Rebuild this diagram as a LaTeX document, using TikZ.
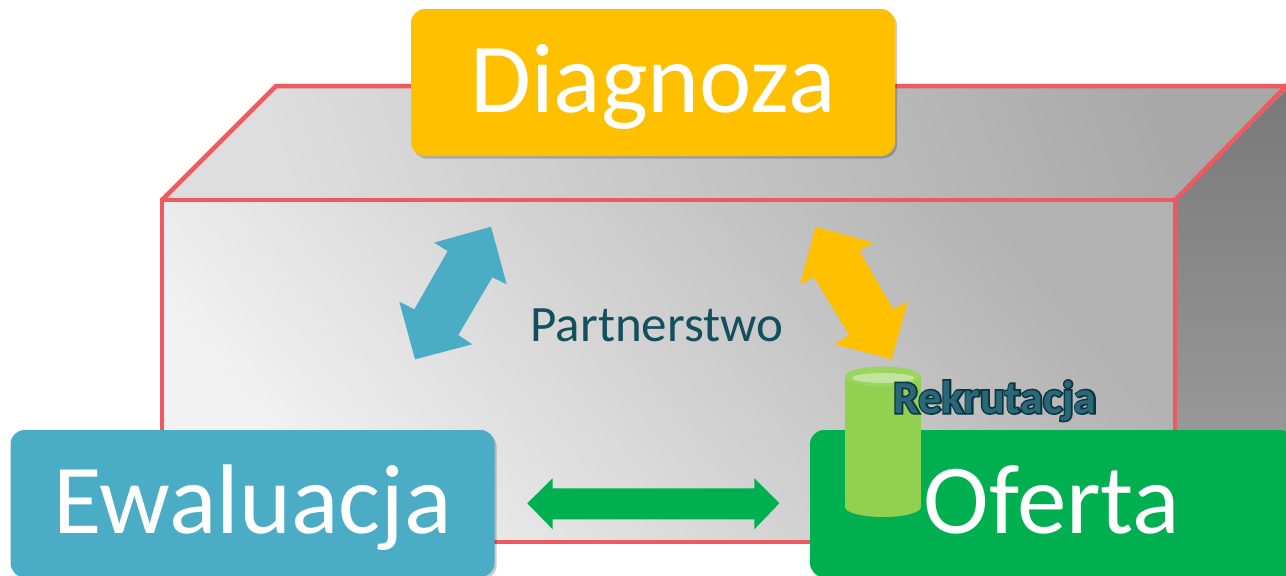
\documentclass[tikz,border=0pt]{standalone}
\usepackage{fontspec}
\setmainfont{Carlito}
\newfontfamily\rekfat{Carlito}[FakeBold=7]
\usetikzlibrary{shadows}
\definecolor{diagc}{HTML}{FFC000}
\definecolor{ewac}{HTML}{4BACC6}
\definecolor{ofec}{HTML}{00B050}
\definecolor{edgec}{HTML}{EF5A60}
\definecolor{tealc}{HTML}{134F5C}
\definecolor{rekdark}{HTML}{0B3540}
\definecolor{rekin}{HTML}{2A6878}
\definecolor{cylc}{HTML}{92D050}
\definecolor{cyltop}{HTML}{C3E49C}
\definecolor{topdark}{HTML}{A8A8A8}
\definecolor{toplight}{HTML}{DEDEDE}
\definecolor{frontdark}{HTML}{B2B2B2}
\definecolor{frontlight}{HTML}{F2F2F2}
\definecolor{sidedark}{HTML}{787878}
\definecolor{sidelight}{HTML}{A2A2A2}
\tikzset{
  mainbox/.style={rounded corners=14pt, minimum width=484pt, minimum height=147pt,
    inner sep=0pt, text=white, font=\fontsize{99}{99}\selectfont,
    text height=70pt, text depth=11pt,
    drop shadow={shadow xshift=2pt, shadow yshift=-2.5pt, opacity=0.2, fill=black}},
  edge/.style={draw=edgec, line width=4.5pt, line join=miter},
}
\begin{document}
\begin{tikzpicture}[x=1pt,y=-1pt]
\useasboundingbox (0,0) rectangle (1286,576);
% box faces
\shade[top color=sidedark, bottom color=sidelight] (1175,200) -- (1290,82) -- (1290,430) -- (1175,545) -- cycle;
\shade[top color=topdark, bottom color=toplight, shading angle=-70] (162,200) -- (276,86) -- (1290,86) -- (1175,200) -- cycle;
\shade[top color=frontdark, bottom color=frontlight, shading angle=-50] (162,200) rectangle (1175,542);
\draw[edge] (162,200) -- (276,86) -- (1292,86);
\draw[edge] (162,542) -- (162,200) -- (1175,200) -- (1175,542) -- cycle;
\draw[edge] (1175,200) -- (1290,82);
% Diagnoza
\node[mainbox, fill=diagc] (diag) at (653,82.5) {Diagnoza};
% arrows
\fill[ewac] (491,226.7) -- (506.7,284.3) -- (492.3,277.3) -- (458.3,335) -- (472.3,344.3) -- (415,359.3) -- (399.3,301.7) -- (414.3,309.3) -- (447.7,251) -- (434,242.7) -- cycle;
\fill[diagc] (815.7,226.7) -- (873.3,242.7) -- (859.3,251) -- (893.3,309.3) -- (907.7,301.7) -- (891.7,359.3) -- (835,344.3) -- (849,335) -- (814.3,277.3) -- (800,284.3) -- cycle;
\fill[ofec] (527.3,503.3) -- (552.7,478.3) -- (552.7,488.3) -- (754.3,488.3) -- (754.3,478.3) -- (779.3,503.3) -- (754.3,529.3) -- (754.3,519.3) -- (552.7,519.3) -- (552.7,529.3) -- cycle;
% Partnerstwo
\node[text=tealc, font=\fontsize{51}{51}\selectfont, anchor=base, inner sep=0pt] (part) at (657,341) {Partnerstwo};
% bottom boxes
\node[mainbox, fill=ewac] (ewa) at (252.5,503.5) {Ewaluacja};
\node[mainbox, fill=ofec] (ofe) at (1052,503.5) {Oferta};
% cylinder
\fill[cylc] (845,376.5) rectangle (921,507);
\fill[cylc] (883,507) ellipse[x radius=38, y radius=10];
\fill[cylc!92!white] (883,376.5) ellipse[x radius=38, y radius=10];
\fill[cyltop] (883.5,378) ellipse[x radius=31, y radius=5];
% Rekrutacja
\node[text=rekdark, font=\rekfat\bfseries\fontsize{46}{46}\selectfont, anchor=base, inner sep=0pt] (rekbg) at (995,413) {Rekrutacja};
\node[text=rekin, font=\bfseries\fontsize{46}{46}\selectfont, anchor=base, inner sep=0pt] (rek) at (995,413) {Rekrutacja};
\end{tikzpicture}
\end{document}
